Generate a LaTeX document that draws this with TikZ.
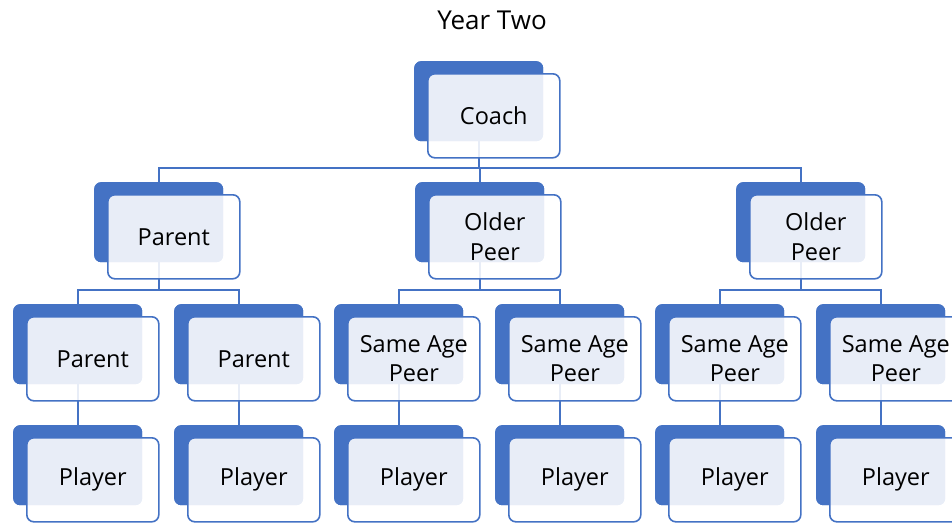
\documentclass[tikz,border=0pt]{standalone}
\usepackage{fontspec}
\setmainfont{Open Sans}
\usetikzlibrary{calc}
\definecolor{sablue}{HTML}{4472C4}
\tikzset{
  backbox/.style={rectangle, rounded corners=7pt, fill=sablue, draw=none,
    minimum width=129pt, minimum height=80pt, inner sep=0pt, anchor=north west},
  frontbox/.style={rectangle, rounded corners=7pt, fill=white, fill opacity=0.88,
    text opacity=1, draw=sablue, draw opacity=1, line width=1.6pt,
    minimum width=132pt, minimum height=84pt, inner sep=0pt, anchor=north west,
    align=center, font=\fontsize{23.5}{29.5}\selectfont, text=black},
  conn/.style={draw=sablue, line width=1.6pt},
  title/.style={font=\fontsize{26}{30}\selectfont, text=black}
}
\begin{document}
\begin{tikzpicture}[x=1pt,y=-1pt]
\useasboundingbox (0,0) rectangle (952,522);
\clip (0,0) rectangle (952,522);
\node[title] (title) at (492,20) {Year Two};
% bus coordinates
\coordinate (bus1) at (0,168);
\coordinate (bus2) at (0,290);
% back boxes (named, used as connector ends)
\node[backbox] (b0) at (414,61) {};
\node[backbox] (b1) at (94,182) {};
\node[backbox] (b2) at (415,182) {};
\node[backbox] (b3) at (736,182) {};
\foreach \i/\x in {1/13,2/174,3/334,4/495,5/655,6/816}{
  \node[backbox] (m\i) at (\x,304) {};
  \node[backbox] (p\i) at (\x,425) {};
}
% connectors
\foreach \c in {b1,b2,b3}{
  \draw[conn] (b0.center) -- (b0.center |- bus1) -| (\c.north);
}
\foreach \pa/\ca/\cb in {b1/m1/m2,b2/m3/m4,b3/m5/m6}{
  \draw[conn] (\pa.center) -- (\pa.center |- bus2) -| (\ca.north);
  \draw[conn] (\pa.center |- bus2) -| (\cb.north);
}
\foreach \i in {1,...,6}{
  \draw[conn] (m\i.center) -- (p\i.north);
}
% redraw back boxes over connectors
\node[backbox] at (414,61) {};
\node[backbox] at (94,182) {};
\node[backbox] at (415,182) {};
\node[backbox] at (736,182) {};
\foreach \x in {13,174,334,495,655,816}{
  \node[backbox] at (\x,304) {};
  \node[backbox] at (\x,425) {};
}
% front boxes
\node[frontbox] (f0) at ($(b0.north west)+(13,12)$) {Coach};
\node[frontbox] (f1) at ($(b1.north west)+(13,12)$) {Parent};
\node[frontbox] (f2) at ($(b2.north west)+(13,12)$) {Older\\Peer};
\node[frontbox] (f3) at ($(b3.north west)+(13,12)$) {Older\\Peer};
\node[frontbox] (g1) at ($(m1.north west)+(13,12)$) {Parent};
\node[frontbox] (g2) at ($(m2.north west)+(13,12)$) {Parent};
\node[frontbox] (g3) at ($(m3.north west)+(13,12)$) {Same Age\\Peer};
\node[frontbox] (g4) at ($(m4.north west)+(13,12)$) {Same Age\\Peer};
\node[frontbox] (g5) at ($(m5.north west)+(13,12)$) {Same Age\\Peer};
\node[frontbox] (g6) at ($(m6.north west)+(13,12)$) {Same Age\\Peer};
\foreach \i in {1,...,6}{
  \node[frontbox] (q\i) at ($(p\i.north west)+(13,12)$) {Player};
}
\end{tikzpicture}
\end{document}
